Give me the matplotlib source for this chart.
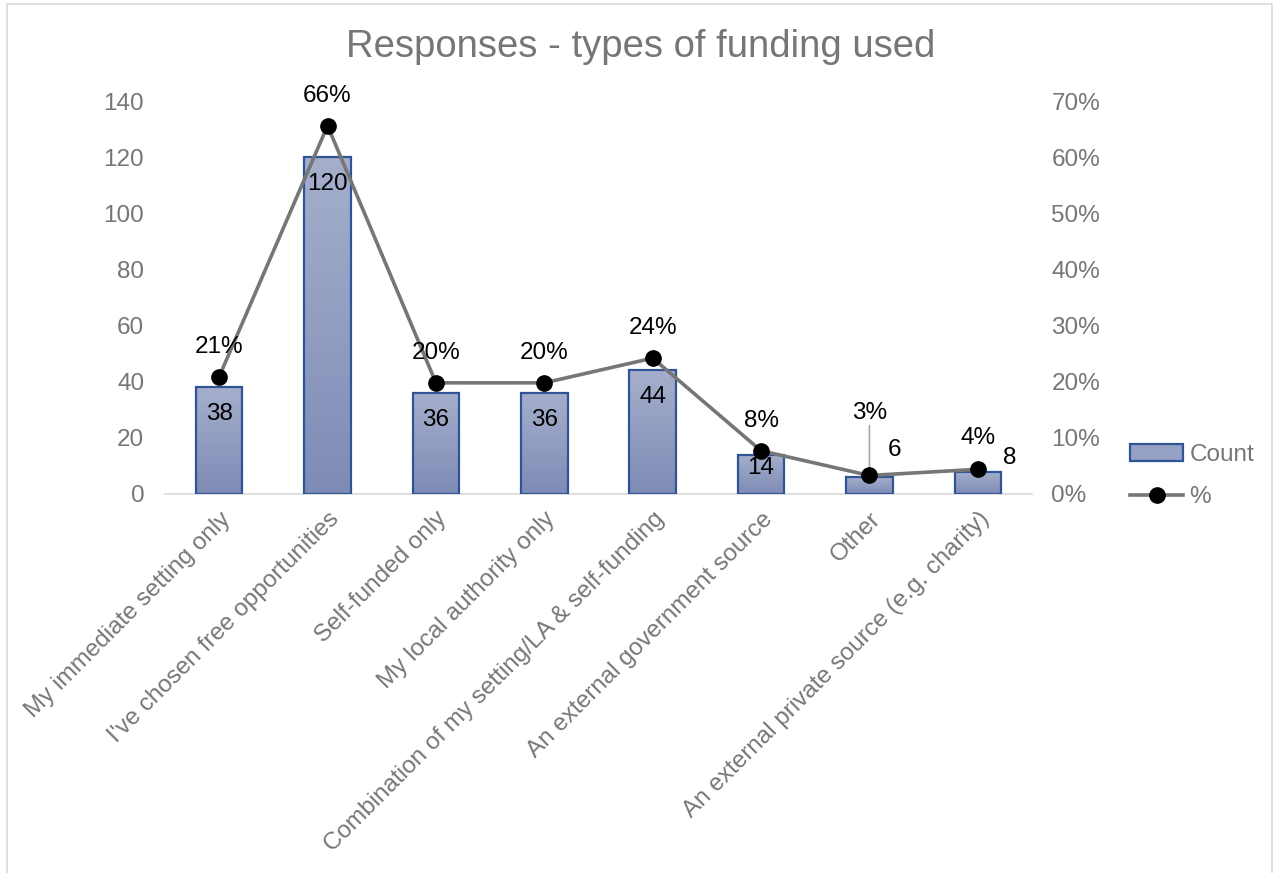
import numpy as np
import matplotlib.pyplot as plt
from matplotlib.patches import Rectangle, Patch
from matplotlib.lines import Line2D
from matplotlib.ticker import FuncFormatter
from matplotlib.colors import LinearSegmentedColormap

plt.rcParams['font.family'] = ['Liberation Sans', 'DejaVu Sans']

categories = ['My immediate setting only', "I've chosen free opportunities", 'Self-funded only',
              'My local authority only', 'Combination of my setting/LA & self-funding',
              'An external government source', 'Other', 'An external private source (e.g. charity)']
counts = [38, 120, 36, 36, 44, 14, 6, 8]
pct = [0.209, 0.656, 0.198, 0.198, 0.242, 0.077, 0.033, 0.044]

# label offsets in pixels (count label, percent label)
count_off = [(0, -27), (0, -27), (0, -27), (0, -27), (0, -27), (0, -13), (25, 27), (32, 14)]
pct_off = [(0, 30), (0, 30), (0, 30), (0, 30), (0, 30), (0, 30), (0, 62), (0, 31)]

GRAY = '#767676'
EDGE = '#2F5597'
FS = 17.5

fig = plt.figure(figsize=(12.76, 8.73), dpi=100)
ax = fig.add_axes([165 / 1276, 1 - 494 / 873, (1032 - 165) / 1276, (494 - 101) / 873])
ax2 = ax.twinx()

x = np.arange(len(categories))
width = 0.43

# gradient bars: light at the top, darker at the bottom
grad = np.linspace(0, 1, 256).reshape(-1, 1)
cmap = LinearSegmentedColormap.from_list('bar', ['#7E8BB6', '#A5AFCC'])
for xi, c in zip(x, counts):
    rect = Rectangle((xi - width / 2, 0), width, c, facecolor='none', edgecolor=EDGE, lw=1.6, zorder=3)
    ax.add_patch(rect)
    im = ax.imshow(grad, cmap=cmap, origin='lower', aspect='auto',
                   extent=(xi - width / 2, xi + width / 2, 0, c), zorder=2)
    im.set_clip_path(rect)

ax.set_xlim(-0.5, len(categories) - 0.5)
ax.set_ylim(0, 140)
ax.set_yticks(range(0, 141, 20))
ax2.set_ylim(0, 0.7)
ax2.set_yticks(np.arange(0, 0.71, 0.1))
ax2.yaxis.set_major_formatter(FuncFormatter(lambda v, p: f'{v:.0%}'))

ax2.plot(x, pct, color=GRAY, lw=2.6, marker='o', ms=11, mfc='black', mec='black', zorder=5)

for a in (ax, ax2):
    for s in a.spines.values():
        s.set_visible(False)
    a.tick_params(length=0, labelsize=FS, labelcolor=GRAY)
ax.spines['bottom'].set_visible(True)
ax.spines['bottom'].set_color('#D9D9D9')
ax.spines['bottom'].set_linewidth(1.2)
ax.tick_params(axis='y', pad=15)
ax2.tick_params(axis='y', pad=14)

ax.set_xticks(x)
ax.set_xticklabels(categories, rotation=45, ha='right', rotation_mode='anchor', fontsize=FS, color=GRAY)
ax.tick_params(axis='x', pad=10)

for xi, c, off in zip(x, counts, count_off):
    ax.annotate(str(c), (xi, c), xytext=off, textcoords='offset pixels',
                ha='center', va='center', fontsize=FS, color='black', zorder=6)
for xi, p, off in zip(x, pct, pct_off):
    ax2.annotate(f'{p:.0%}', (xi, p), xytext=off, textcoords='offset pixels',
                 ha='center', va='center', fontsize=FS, color='black', zorder=6)

# leader line for the "Other" percent label
ax2.annotate('', (x[6], pct[6]), xytext=(0, 50), textcoords='offset pixels',
             arrowprops=dict(arrowstyle='-', color='#A6A6A6', lw=1.2, shrinkA=0, shrinkB=0))

fig.suptitle('Responses - types of funding used', x=0.502, y=1 - 47 / 873, va='center',
             fontsize=27.5, color=GRAY)

handles = [Patch(facecolor='#95A0C4', edgecolor=EDGE, lw=1.6),
           Line2D([], [], color=GRAY, lw=2.6, marker='o', ms=11, mfc='black', mec='black')]
fig.legend(handles, ['Count', '%'], loc='center left', bbox_to_anchor=(1108 / 1276, 1 - 476 / 873),
           frameon=False, fontsize=FS, labelcolor=GRAY, handlelength=2.2, handletextpad=0.25,
           labelspacing=0.85)

fig.add_artist(Rectangle((7 / 1276, -0.01), 1265 / 1276, 1 - 4 / 873 + 0.01, transform=fig.transFigure,
                         fill=False, edgecolor='#D9D9D9', lw=1.2))

fig.savefig('out.png', dpi=100)
